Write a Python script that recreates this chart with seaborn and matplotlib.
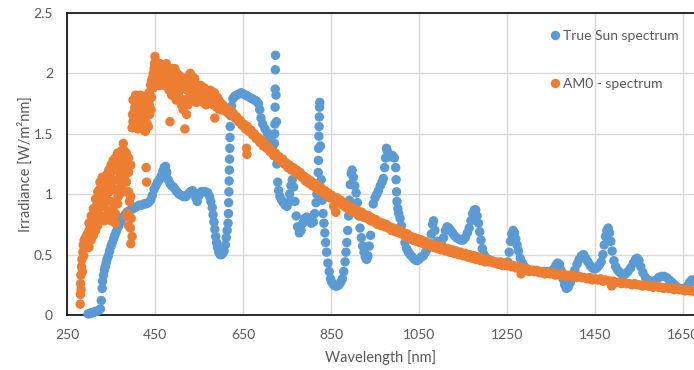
import matplotlib
matplotlib.use("Agg")
import matplotlib.pyplot as plt
import seaborn as sns
import pandas as pd

# ---------------- data ----------------
series_names = ["True Sun spectrum", "AM0 - spectrum"]
series_colors = ["#5B9BD5", "#ED7D31"]

x_ticks = [250, 450, 650, 850, 1050, 1250, 1450, 1650]
y_ticks = [0, 0.5, 1, 1.5, 2, 2.5]
y_tick_labels = ["0", "0.5", "1", "1.5", "2", "2.5"]

sun_wavelength = [
    298, 302, 306, 310, 314, 318, 322, 326, 328, 330,
    331, 333, 335, 337, 339, 341, 344, 347, 350, 353,
    356, 359, 362, 365, 368, 371, 374, 378, 382, 386,
    390, 395, 400, 405, 410, 415, 420, 425, 430, 435,
    440, 444, 448, 452, 456, 460, 464, 468, 471, 474,
    477, 480, 484, 488, 492, 496, 500, 505, 510, 515,
    520, 525, 530, 535, 539, 543, 546, 550, 555, 560,
    565, 570, 574, 577, 580, 582, 584, 586, 588, 590,
    592, 595, 598, 601, 604, 607, 610, 612, 614, 616,
    617, 617.5, 618, 618.5, 619, 619.5, 620, 620.5, 621, 622,
    624, 627, 631, 636, 641, 646, 651, 656, 661, 666,
    671, 676, 681, 685, 688, 691, 695, 700, 705, 710,
    715, 718, 721, 721.5, 722, 722.5, 723, 723.3, 723.6, 724,
    725, 726, 727, 729, 731, 734, 738, 742, 746, 750,
    753, 756, 759, 762, 765, 768, 771, 774, 778, 782,
    786, 790, 795, 800, 805, 810, 813, 816, 818, 820,
    821, 821.5, 822, 822.5, 823, 823.5, 824, 824.5, 826, 828,
    830, 832, 834, 836, 838, 840, 843, 846, 849, 852,
    856, 860, 864, 868, 872, 876, 879, 882, 884, 886,
    888, 890, 892, 894, 896, 898, 901, 904, 907, 910,
    913, 916, 919, 922, 925, 928, 931, 934, 937, 940,
    943, 946, 950, 954, 958, 962, 966, 969, 972, 974,
    976, 978, 981, 985, 990, 994, 997, 998, 999, 1000,
    1002, 1004, 1007, 1010, 1014, 1018, 1022, 1026, 1030, 1035,
    1040, 1045, 1050, 1055, 1060, 1065, 1070, 1075, 1078, 1081,
    1083, 1086, 1090, 1094, 1098, 1102, 1106, 1110, 1114, 1118,
    1122, 1126, 1130, 1135, 1140, 1145, 1150, 1155, 1160, 1164,
    1168, 1172, 1176, 1179, 1182, 1185, 1188, 1191, 1194, 1198,
    1203, 1208, 1214, 1220, 1226, 1232, 1238, 1244, 1249, 1252,
    1255, 1258, 1261, 1264, 1267, 1270, 1273, 1276, 1280, 1285,
    1290, 1296, 1302, 1310, 1318, 1326, 1334, 1342, 1350, 1356,
    1361, 1365, 1369, 1373, 1377, 1381, 1385, 1389, 1394, 1399,
    1404, 1409, 1414, 1419, 1424, 1429, 1434, 1439, 1444, 1449,
    1454, 1459, 1464, 1468, 1471, 1474, 1477, 1480, 1483, 1486,
    1489, 1493, 1497, 1502, 1507, 1513, 1519, 1525, 1531, 1537,
    1542, 1546, 1550, 1554, 1559, 1565, 1571, 1577, 1583, 1589,
    1595, 1601, 1607, 1613, 1619, 1625, 1631, 1637, 1643, 1649,
    1655, 1660, 1665, 1670, 1675, 1680,
]
sun_irradiance = [
    0.01, 0.01, 0.02, 0.02, 0.03, 0.03, 0.04, 0.05, 0.12, 0.22,
    0.28, 0.33, 0.37, 0.40, 0.43, 0.46, 0.49, 0.53, 0.57, 0.60,
    0.63, 0.66, 0.69, 0.72, 0.74, 0.77, 0.79, 0.81, 0.83, 0.85,
    0.86, 0.87, 0.88, 0.89, 0.90, 0.91, 0.91, 0.92, 0.92, 0.93,
    0.95, 0.99, 1.04, 1.07, 1.10, 1.12, 1.15, 1.19, 1.22, 1.23,
    1.18, 1.12, 1.09, 1.07, 1.06, 1.04, 1.02, 1.00, 0.99, 0.98,
    0.98, 1.00, 1.02, 1.03, 1.01, 0.97, 0.94, 0.99, 1.02, 1.02,
    1.02, 1.01, 0.98, 0.94, 0.89, 0.83, 0.77, 0.71, 0.65, 0.60,
    0.56, 0.52, 0.50, 0.50, 0.51, 0.53, 0.58, 0.64, 0.70, 0.76,
    0.84, 0.93, 1.02, 1.11, 1.20, 1.29, 1.38, 1.47, 1.56, 1.65,
    1.73, 1.79, 1.81, 1.82, 1.83, 1.84, 1.83, 1.82, 1.81, 1.80,
    1.79, 1.78, 1.77, 1.75, 1.70, 1.63, 1.58, 1.54, 1.51, 1.47,
    1.44, 1.40, 1.32, 1.42, 1.50, 1.58, 1.72, 1.87, 2.03, 2.15,
    1.82, 1.60, 1.25, 1.10, 1.03, 0.98, 0.95, 0.93, 0.91, 0.90,
    0.93, 1.00, 1.07, 1.12, 1.06, 0.94, 0.82, 0.73, 0.68, 0.70,
    0.76, 0.80, 0.81, 0.78, 0.76, 0.77, 0.84, 0.93, 1.00, 1.08,
    1.18, 1.28, 1.38, 1.48, 1.56, 1.64, 1.72, 1.76, 1.40, 1.12,
    0.95, 0.84, 0.76, 0.68, 0.60, 0.52, 0.43, 0.36, 0.30, 0.27,
    0.25, 0.24, 0.24, 0.25, 0.27, 0.30, 0.36, 0.44, 0.52, 0.60,
    0.70, 0.82, 0.95, 1.08, 1.17, 1.20, 1.14, 1.07, 1.01, 0.93,
    0.82, 0.72, 0.64, 0.57, 0.52, 0.48, 0.46, 0.49, 0.57, 0.66,
    0.80, 0.92, 0.97, 1.00, 1.03, 1.07, 1.10, 1.13, 1.22, 1.30,
    1.38, 1.36, 1.33, 1.31, 1.32, 1.30, 1.22, 1.12, 1.02, 0.94,
    0.88, 0.84, 0.80, 0.74, 0.67, 0.60, 0.55, 0.52, 0.50, 0.48,
    0.46, 0.45, 0.46, 0.48, 0.49, 0.52, 0.55, 0.59, 0.67, 0.75,
    0.78, 0.70, 0.61, 0.56, 0.55, 0.58, 0.64, 0.70, 0.73, 0.72,
    0.70, 0.68, 0.66, 0.64, 0.63, 0.62, 0.62, 0.64, 0.68, 0.72,
    0.78, 0.84, 0.87, 0.87, 0.82, 0.76, 0.69, 0.62, 0.55, 0.50,
    0.47, 0.46, 0.45, 0.44, 0.43, 0.43, 0.42, 0.41, 0.41, 0.44,
    0.52, 0.61, 0.67, 0.70, 0.68, 0.63, 0.58, 0.53, 0.47, 0.43,
    0.40, 0.38, 0.37, 0.37, 0.36, 0.36, 0.36, 0.36, 0.36, 0.38,
    0.41, 0.43, 0.42, 0.37, 0.30, 0.25, 0.22, 0.23, 0.27, 0.31,
    0.37, 0.42, 0.46, 0.49, 0.50, 0.47, 0.44, 0.41, 0.39, 0.38,
    0.39, 0.41, 0.44, 0.50, 0.58, 0.65, 0.70, 0.72, 0.68, 0.61,
    0.53, 0.45, 0.40, 0.37, 0.35, 0.33, 0.34, 0.36, 0.39, 0.43,
    0.46, 0.47, 0.45, 0.40, 0.35, 0.31, 0.29, 0.28, 0.28, 0.29,
    0.31, 0.32, 0.32, 0.31, 0.29, 0.27, 0.25, 0.23, 0.22, 0.22,
    0.22, 0.24, 0.27, 0.29, 0.29, 0.27,
]

am0_wavelength = [
    280, 280.5, 281, 281.5, 282, 283, 284, 285, 286, 287,
    288, 289, 290, 292, 294, 296, 298, 300, 302, 304,
    306, 308, 310, 312, 314, 316, 318, 320, 322, 324,
    326, 328, 330, 332, 334, 336, 338, 340, 342, 344,
    346, 348, 350, 352, 354, 356, 358, 360, 362, 364,
    366, 368, 370, 372, 374, 376, 378, 380, 382, 384,
    386, 388, 390, 392, 394, 396, 398, 386, 390, 395,
    398, 399, 400, 402, 404, 406, 408, 410, 412, 414,
    416, 418, 420, 422, 424, 426, 428, 430, 430, 431,
    432, 434, 436, 438, 440, 442, 444, 446, 448, 450,
    452, 454, 456, 458, 460, 462, 464, 466, 468, 470,
    472, 474, 476, 478, 480, 482, 484, 484, 486, 488,
    490, 492, 494, 496, 498, 500, 502, 504, 506, 508,
    510, 512, 514, 516, 518, 520, 522, 524, 526, 528,
    530, 532, 534, 536, 538, 540, 542, 544, 546, 548,
    550, 552, 554, 556, 558, 560, 562, 564, 566, 568,
    570, 572, 574, 576, 578, 580, 582, 584, 586, 588,
    590, 592, 594, 596, 598, 600, 604, 608, 612, 616,
    620, 624, 628, 632, 636, 640, 644, 648, 652, 656,
    658, 659, 660, 664, 668, 672, 676, 680, 684, 688,
    692, 696, 700, 704, 708, 712, 716, 720, 724, 728,
    732, 736, 740, 744, 748, 752, 756, 760, 764, 768,
    772, 776, 780, 784, 788, 792, 796, 800, 804, 808,
    812, 816, 820, 824, 828, 832, 836, 840, 844, 848,
    852, 856, 860, 861, 864, 868, 872, 876, 880, 884,
    888, 892, 896, 900, 904, 908, 912, 916, 920, 924,
    928, 932, 936, 940, 944, 948, 952, 956, 960, 964,
    968, 972, 976, 980, 984, 988, 992, 996, 1000, 1004,
    1008, 1012, 1016, 1020, 1024, 1028, 1032, 1036, 1040, 1044,
    1048, 1052, 1056, 1060, 1064, 1068, 1072, 1076, 1080, 1084,
    1088, 1092, 1096, 1100, 1105, 1110, 1115, 1120, 1125, 1130,
    1135, 1140, 1145, 1150, 1155, 1160, 1165, 1170, 1175, 1180,
    1185, 1190, 1195, 1200, 1205, 1210, 1215, 1220, 1225, 1230,
    1235, 1240, 1245, 1250, 1255, 1260, 1265, 1270, 1275, 1280,
    1282, 1285, 1290, 1295, 1300, 1306, 1312, 1318, 1324, 1330,
    1336, 1342, 1348, 1354, 1360, 1366, 1372, 1378, 1384, 1390,
    1396, 1402, 1408, 1414, 1420, 1426, 1432, 1438, 1444, 1450,
    1456, 1462, 1468, 1474, 1480, 1486, 1488, 1492, 1498, 1504,
    1510, 1516, 1522, 1528, 1534, 1540, 1546, 1552, 1558, 1564,
    1570, 1576, 1582, 1588, 1594, 1600, 1606, 1612, 1618, 1624,
    1630, 1636, 1642, 1648, 1654, 1660, 1666, 1672, 1678, 1684,
    300, 300, 305, 305, 310, 310, 315, 315, 320, 320,
    325, 325, 330, 330, 335, 335, 340, 340, 345, 345,
    350, 350, 355, 355, 360, 360, 365, 365, 370, 370,
    375, 375, 380, 380, 385, 385, 390, 390, 395, 395,
    400, 403, 405, 407, 409, 411, 413, 415, 417, 419,
    421, 423, 425, 427, 429, 433, 435, 437, 439, 441,
    442, 446, 449, 452, 456, 460, 470, 480, 490, 500,
    505, 515, 525, 535, 545, 555, 565, 575, 585, 595,
    470, 495, 520, 540,
]
am0_irradiance = [
    0.09, 0.17, 0.26, 0.33, 0.21, 0.40, 0.46, 0.36, 0.52, 0.58,
    0.49, 0.62, 0.55, 0.64, 0.58, 0.67, 0.61, 0.70, 0.64, 0.74,
    0.68, 0.78, 0.72, 0.82, 0.76, 0.90, 0.84, 0.96, 0.88, 1.04,
    0.92, 1.10, 0.98, 1.06, 0.90, 1.00, 1.12, 0.96, 1.08, 0.86,
    1.02, 1.16, 0.94, 1.10, 0.80, 1.20, 1.04, 0.76, 1.24, 1.12,
    0.98, 1.30, 1.18, 1.06, 1.36, 1.24, 1.42, 1.14, 1.32, 1.02,
    1.26, 0.84, 1.18, 0.94, 0.72, 0.80, 0.65, 0.82, 0.74, 0.59,
    1.55, 1.66, 1.78, 1.62, 1.72, 1.82, 1.58, 1.76, 1.68, 1.80,
    1.60, 1.74, 1.66, 1.54, 1.78, 1.62, 1.52, 1.70, 1.22, 1.10,
    1.58, 1.76, 1.84, 1.66, 1.90, 1.80, 1.96, 1.88, 2.04, 2.14,
    1.96, 2.06, 1.92, 2.02, 1.98, 2.08, 1.94, 2.04, 1.96, 2.06,
    1.90, 2.00, 2.08, 1.94, 2.02, 1.86, 1.98, 1.60, 2.04, 1.82,
    1.96, 2.02, 1.88, 1.98, 1.78, 2.00, 1.92, 1.84, 1.98, 1.90,
    1.74, 1.94, 1.70, 1.88, 1.54, 1.96, 1.66, 1.86, 1.92, 1.80,
    2.00, 1.88, 1.96, 1.78, 1.90, 1.84, 1.92, 1.76, 1.88, 1.82,
    1.86, 1.78, 1.90, 1.80, 1.86, 1.76, 1.88, 1.82, 1.74, 1.86,
    1.80, 1.84, 1.76, 1.86, 1.78, 1.82, 1.74, 1.80, 1.63, 1.78,
    1.72, 1.80, 1.74, 1.70, 1.76, 1.72, 1.74, 1.69, 1.71, 1.67,
    1.70, 1.66, 1.67, 1.63, 1.64, 1.60, 1.61, 1.57, 1.58, 1.54,
    1.38, 1.33, 1.56, 1.52, 1.53, 1.49, 1.50, 1.46, 1.47, 1.43,
    1.45, 1.40, 1.42, 1.38, 1.39, 1.35, 1.36, 1.32, 1.34, 1.30,
    1.31, 1.27, 1.29, 1.25, 1.26, 1.22, 1.24, 1.20, 1.22, 1.18,
    1.20, 1.16, 1.18, 1.14, 1.15, 1.11, 1.13, 1.09, 1.11, 1.07,
    1.09, 1.05, 1.07, 1.03, 1.05, 1.01, 1.03, 0.99, 1.01, 0.97,
    0.99, 0.90, 0.95, 0.85, 0.97, 0.93, 0.95, 0.91, 0.93, 0.89,
    0.91, 0.87, 0.89, 0.85, 0.88, 0.84, 0.86, 0.82, 0.85, 0.81,
    0.83, 0.80, 0.82, 0.78, 0.80, 0.77, 0.79, 0.75, 0.77, 0.74,
    0.76, 0.73, 0.75, 0.72, 0.73, 0.70, 0.72, 0.69, 0.71, 0.68,
    0.70, 0.67, 0.68, 0.65, 0.67, 0.64, 0.65, 0.62, 0.64, 0.61,
    0.63, 0.60, 0.62, 0.59, 0.61, 0.58, 0.59, 0.57, 0.58, 0.56,
    0.58, 0.55, 0.57, 0.54, 0.56, 0.53, 0.55, 0.52, 0.54, 0.51,
    0.53, 0.50, 0.52, 0.49, 0.51, 0.48, 0.50, 0.47, 0.49, 0.46,
    0.48, 0.45, 0.47, 0.44, 0.46, 0.44, 0.45, 0.43, 0.44, 0.42,
    0.44, 0.41, 0.43, 0.41, 0.42, 0.40, 0.41, 0.39, 0.40, 0.38,
    0.34, 0.39, 0.37, 0.38, 0.36, 0.37, 0.36, 0.37, 0.35, 0.36,
    0.34, 0.35, 0.34, 0.35, 0.33, 0.34, 0.33, 0.34, 0.32, 0.33,
    0.32, 0.33, 0.31, 0.32, 0.31, 0.31, 0.30, 0.31, 0.29, 0.30,
    0.29, 0.30, 0.28, 0.29, 0.28, 0.28, 0.24, 0.28, 0.27, 0.27,
    0.26, 0.27, 0.26, 0.26, 0.25, 0.26, 0.25, 0.25, 0.24, 0.25,
    0.24, 0.24, 0.23, 0.24, 0.23, 0.23, 0.22, 0.23, 0.22, 0.22,
    0.21, 0.22, 0.21, 0.21, 0.20, 0.21, 0.20, 0.20, 0.19, 0.20,
    0.56, 0.76, 0.62, 0.82, 0.66, 0.88, 0.70, 0.96, 0.74, 1.02,
    0.78, 1.10, 0.82, 1.14, 0.78, 1.08, 0.80, 1.16, 0.84, 1.20,
    0.78, 1.24, 0.88, 1.28, 0.84, 1.30, 0.92, 1.34, 1.00, 1.26,
    1.10, 1.30, 1.20, 1.36, 1.10, 1.34, 1.02, 1.30, 1.24, 0.98,
    1.60, 1.68, 1.56, 1.74, 1.64, 1.54, 1.72, 1.64, 1.82, 1.56,
    1.72, 1.64, 1.70, 1.80, 1.60, 1.68, 1.56, 1.74, 1.82, 1.70,
    1.94, 2.00, 2.08, 2.10, 2.02, 1.90, 1.94, 1.92, 1.88, 1.86,
    1.80, 1.78, 1.74, 1.84, 1.80, 1.84, 1.78, 1.84, 1.84, 1.78,
    1.98, 2.04, 1.90, 1.96,
]

# ---------------- build table ----------------
df = pd.concat([
    pd.DataFrame({"Wavelength": sun_wavelength, "Irradiance": sun_irradiance,
                  "Series": series_names[0]}),
    pd.DataFrame({"Wavelength": am0_wavelength, "Irradiance": am0_irradiance,
                  "Series": series_names[1]}),
], ignore_index=True)

# ---------------- style ----------------
sns.set_style("white")
plt.rcParams["font.family"] = ["Lato", "DejaVu Sans"]
text_color = "#595959"

fig = plt.figure(figsize=(6.94, 3.70), dpi=100)
ax = fig.add_axes([0.0965, 0.1486, 0.9035, 0.8163])

sns.scatterplot(data=df, x="Wavelength", y="Irradiance", hue="Series",
                hue_order=series_names, palette=series_colors,
                s=46, linewidth=0, alpha=1, ax=ax, zorder=3, clip_on=False)

ax.set_xlim(250, 1675)
ax.set_ylim(0, 2.5)
ax.set_xticks(x_ticks)
ax.set_yticks(y_ticks)
ax.set_yticklabels(y_tick_labels)
ax.tick_params(axis="both", length=0, labelsize=10, labelcolor=text_color)
ax.tick_params(axis="y", pad=10)
ax.tick_params(axis="x", pad=10)

ax.grid(True, color="#d9d9d9", linewidth=1.0)
ax.set_axisbelow(True)
for side in ["left", "bottom", "top"]:
    ax.spines[side].set_visible(True)
    ax.spines[side].set_color("#1a1a1a")
    ax.spines[side].set_linewidth(1.3)
ax.spines["right"].set_visible(False)

ax.set_xlabel("Wavelength [nm]", fontsize=10.5, color=text_color)
ax.set_ylabel("Irradiance [W/m²nm]", fontsize=10.5, color=text_color)
ax.yaxis.set_label_coords(-0.055, 0.5)
ax.xaxis.set_label_coords(0.5, -0.115)

handles, labels = ax.get_legend_handles_labels()
ax.legend(handles, labels, loc="upper left", bbox_to_anchor=(0.769, 0.944),
          frameon=False, fontsize=10, labelcolor=text_color,
          labelspacing=2.6, handlelength=0.8, handletextpad=0.2,
          borderpad=0, borderaxespad=0)

fig.savefig("out.png", dpi=100)
